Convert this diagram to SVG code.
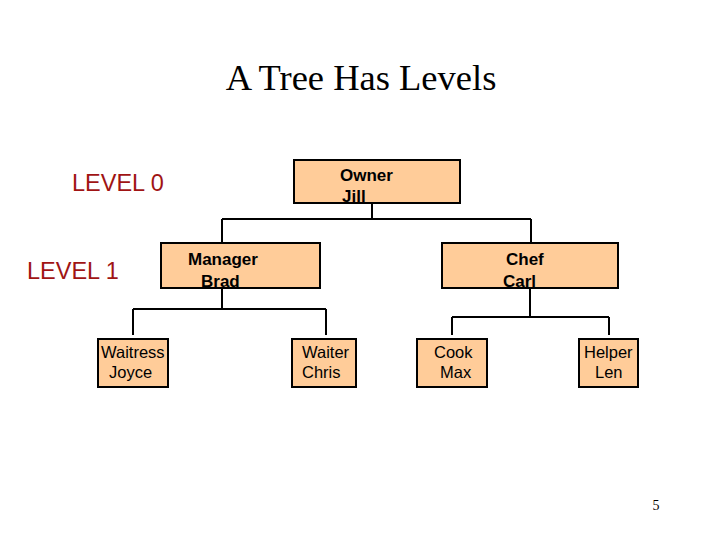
<svg xmlns="http://www.w3.org/2000/svg" width="720" height="540" viewBox="0 0 720 540">
<style>
.box{fill:#FFCC99;stroke:#000;stroke-width:2}
.lbl{font-family:"Liberation Sans",Arial,sans-serif;font-size:17px;font-weight:bold;fill:#000}
.sm{font-family:"Liberation Sans",Arial,sans-serif;font-size:16.5px;fill:#000}
.lvl{font-family:"Liberation Sans",Arial,sans-serif;font-size:23.5px;fill:#A01414}
.con{fill:none;stroke:#000;stroke-width:2}
</style>
<rect width="720" height="540" fill="#fff"/>
<text x="361" y="90" font-family="'Liberation Serif','Times New Roman',serif" font-size="36.5" text-anchor="middle">A Tree Has Levels</text>
<text id="level0" class="lvl" x="72" y="191">LEVEL 0</text>
<text id="level1" class="lvl" x="27" y="279">LEVEL 1</text>
<g id="connectors">
<path class="con" d="M372 203V219M222 219H531M222 219V243M531 219V243"/>
<path class="con" d="M222 288V309M133 309H326M133 309V335M326 309V335"/>
<path class="con" d="M530 288V317M452 317H609M452 317V335M609 317V335"/>
</g>
<g id="owner"><rect class="box" x="294" y="160" width="166" height="43"/><text class="lbl" x="340" y="181">Owner</text><text class="lbl" x="342" y="202">Jill</text></g>
<g id="manager"><rect class="box" x="161" y="243" width="159" height="45"/><text class="lbl" x="188" y="265">Manager</text><text class="lbl" x="201" y="287">Brad</text></g>
<g id="chef"><rect class="box" x="442" y="243" width="176" height="45"/><text class="lbl" x="506" y="265">Chef</text><text class="lbl" x="503" y="287">Carl</text></g>
<g id="waitress"><rect class="box" x="98" y="339" width="70" height="48"/><text class="sm" x="101" y="358">Waitress</text><text class="sm" x="109" y="378">Joyce</text></g>
<g id="waiter"><rect class="box" x="292" y="339" width="64" height="48"/><text class="sm" x="302" y="358">Waiter</text><text class="sm" x="302" y="378">Chris</text></g>
<g id="cook"><rect class="box" x="417" y="339" width="70" height="48"/><text class="sm" x="434" y="358">Cook</text><text class="sm" x="440" y="378">Max</text></g>
<g id="helper"><rect class="box" x="579" y="339" width="59" height="48"/><text class="sm" x="584" y="358">Helper</text><text class="sm" x="595" y="378">Len</text></g>
<text x="656" y="510" font-family="'Liberation Serif','Times New Roman',serif" font-size="14" text-anchor="middle">5</text>
</svg>
